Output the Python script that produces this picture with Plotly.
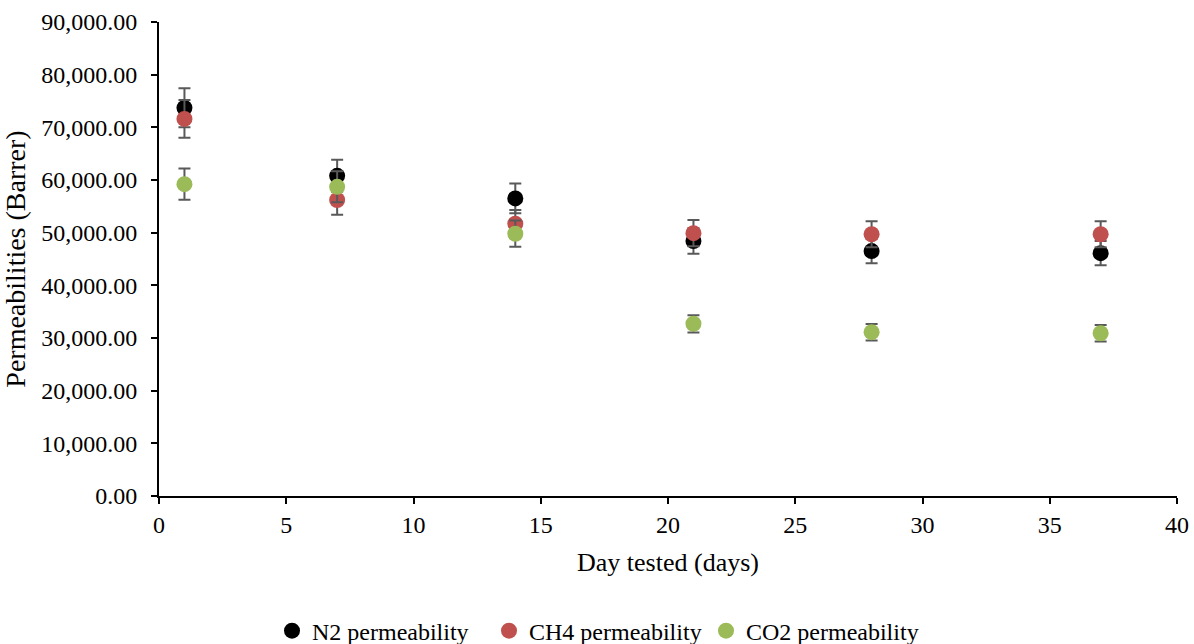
import plotly.graph_objects as go

days = [1, 7, 14, 21, 28, 37]
n2 = [73700, 60800, 56500, 48400, 46500, 46100]
n2_err = [3700, 3040, 2830, 2420, 2330, 2300]
ch4 = [71600, 56200, 51700, 49900, 49700, 49700]
ch4_err = [3580, 2810, 2590, 2500, 2490, 2490]
co2 = [59200, 58700, 49800, 32700, 31100, 30900]
co2_err = [2960, 2940, 2490, 1640, 1560, 1550]

series = [
    ("N2 permeability", n2, n2_err, "#000000"),
    ("CH4 permeability", ch4, ch4_err, "#C0504D"),
    ("CO2 permeability", co2, co2_err, "#9BBB59"),
]

FONT = "Liberation Serif, Times New Roman, serif"

fig = go.Figure()
for name, vals, errs, col in series:
    fig.add_trace(go.Scatter(
        x=days, y=vals, mode="markers", name=name,
        marker=dict(color=col, size=16, line=dict(width=0)),
        error_y=dict(type="data", array=errs, visible=True,
                     color="#595959", thickness=2, width=6),
    ))

fig.update_layout(
    width=1194, height=644,
    margin=dict(l=159, r=17, t=22, b=148, autoexpand=False),
    paper_bgcolor="white", plot_bgcolor="white",
    font=dict(family=FONT, size=24, color="black"),
    showlegend=True,
    legend=dict(orientation="h", x=0.111, xanchor="left", y=-0.285, yanchor="middle",
                font=dict(size=24), entrywidth=172, entrywidthmode="pixels",
                itemwidth=30, tracegroupgap=0),
    xaxis=dict(range=[0, 40], dtick=5, tick0=0, showgrid=False, zeroline=False,
               showline=True, linecolor="black", linewidth=2, automargin=False,
               ticks="outside", ticklen=6, tickwidth=2, tickcolor="black",
               title=dict(text="Day tested (days)", font=dict(size=26), standoff=16)),
    yaxis=dict(range=[0, 90000], dtick=10000, tick0=0, showgrid=False, zeroline=False,
               showline=True, linecolor="black", linewidth=2, tickformat=",.2f",
               automargin=False, ticklabelstandoff=9,
               ticks="outside", ticklen=6, tickwidth=2, tickcolor="black",
               title=dict(text="Permeabilities (Barrer)", font=dict(size=28), standoff=10)),
)

fig.write_html("out.html")
